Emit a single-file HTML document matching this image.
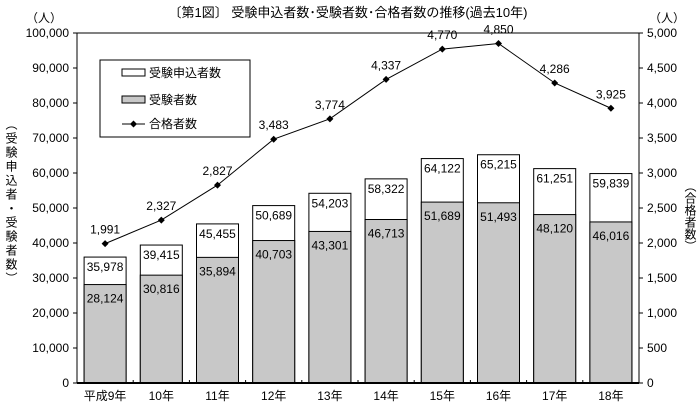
<!DOCTYPE html>
<html><head><meta charset="utf-8"><style>
body{margin:0;background:#fff;position:relative;width:699px;height:407px;overflow:hidden;}
svg{display:block;font-family:"Liberation Sans","Noto Sans CJK JP",sans-serif;}
.vt{position:absolute;writing-mode:vertical-rl;text-orientation:upright;font-family:"Liberation Sans","Noto Sans CJK JP",sans-serif;font-size:12px;line-height:14px;}
</style></head><body>
<div class="vt" style="left:4px;top:118px;letter-spacing:2px;">（受験申込者・受験者数）</div>
<div class="vt" style="left:683px;top:180px;">（合格者数）</div>
<svg id="c" width="699" height="407">
<text x="348" y="17" font-size="13" text-anchor="middle">〔第1図〕 受験申込者数･受験者数･合格者数の推移(過去10年)</text>
<text x="44" y="22" font-size="12" text-anchor="middle">（人）</text>
<text x="667" y="22" font-size="12" text-anchor="middle">（人）</text>
<g id="plot"></g>
<g>
<rect x="100" y="60" width="150" height="77" fill="#fff" stroke="#000"/>
<rect x="122" y="69" width="23" height="7" fill="#fff" stroke="#000"/>
<text x="149" y="77" font-size="12">受験申込者数</text>
<rect x="122" y="96" width="23" height="7" fill="#c8c8c8" stroke="#000"/>
<text x="149" y="104" font-size="12">受験者数</text>
<line x1="122" y1="124" x2="145" y2="124" stroke="#000"/>
<path d="M133.5 120.5 l3.5 3.5 -3.5 3.5 -3.5 -3.5z" fill="#000"/>
<text x="149" y="128" font-size="12">合格者数</text>
</g>
</svg>
<script>
const categories=["平成9年","10年","11年","12年","13年","14年","15年","16年","17年","18年"];
const applicants=[35978,39415,45455,50689,54203,58322,64122,65215,61251,59839];
const examinees=[28124,30816,35894,40703,43301,46713,51689,51493,48120,46016];
const passers=[1991,2327,2827,3483,3774,4337,4770,4850,4286,3925];
const leftTicks=[0,10000,20000,30000,40000,50000,60000,70000,80000,90000,100000];
const rightTicks=[0,500,1000,1500,2000,2500,3000,3500,4000,4500,5000];
const L=77,R=639,T=33,B=383;
const bw=(R-L)/categories.length;
const yL=v=>B-(v/100000)*(B-T);
const yR=v=>B-(v/5000)*(B-T);
const xC=i=>L+bw*(i+0.5);
const g=document.getElementById('plot');
const NS='http://www.w3.org/2000/svg';
function mk(t,a,p){const e=document.createElementNS(NS,t);for(const k in a)e.setAttribute(k,a[k]);(p||g).appendChild(e);return e;}
const fmt=v=>v.toLocaleString('en-US');
mk('rect',{x:L,y:T,width:R-L,height:B-T,fill:'none',stroke:'#000'});
leftTicks.forEach(v=>{mk('line',{x1:L-4,x2:L,y1:yL(v),y2:yL(v),stroke:'#000'});
const t=mk('text',{x:L-8,y:yL(v)+4,'font-size':12,'text-anchor':'end'});t.textContent=fmt(v);

});
rightTicks.forEach(v=>{mk('line',{x1:R,x2:R+4,y1:yR(v),y2:yR(v),stroke:'#000'});
const t=mk('text',{x:R+8,y:yR(v)+4,'font-size':12});t.textContent=fmt(v);

});
categories.forEach((c,i)=>{
const x0=xC(i)-21;
const a=mk('rect',{x:x0,y:yL(applicants[i]),width:42,height:B-yL(applicants[i]),fill:'#fff',stroke:'#000'});


const e=mk('rect',{x:x0,y:yL(examinees[i]),width:42,height:B-yL(examinees[i]),fill:'#c8c8c8',stroke:'#000'});


let t=mk('text',{x:xC(i),y:yL(applicants[i])+14,'font-size':12,'text-anchor':'middle'});t.textContent=fmt(applicants[i]);


t=mk('text',{x:xC(i),y:yL(examinees[i])+18,'font-size':12,'text-anchor':'middle'});t.textContent=fmt(examinees[i]);


t=mk('text',{x:xC(i),y:B+17,'font-size':12,'text-anchor':'middle'});t.textContent=c;


if(i>0)mk('line',{x1:L+bw*i,x2:L+bw*i,y1:B,y2:B-3,stroke:'#000'});
});
mk('line',{x1:L,x2:R,y1:B,y2:B,stroke:'#000','stroke-width':2});
const pl=mk('polyline',{points:passers.map((v,i)=>xC(i)+','+yR(v)).join(' '),fill:'none',stroke:'#000'});


passers.forEach((v,i)=>{
const x=xC(i),y=yR(v);
const p=mk('path',{d:`M${x} ${y-3.5} l3.5 3.5 -3.5 3.5 -3.5 -3.5z`,fill:'#000'});


const t=mk('text',{x:x,y:y-10,'font-size':12,'text-anchor':'middle'});t.textContent=fmt(v);


});
</script>
</body></html>
